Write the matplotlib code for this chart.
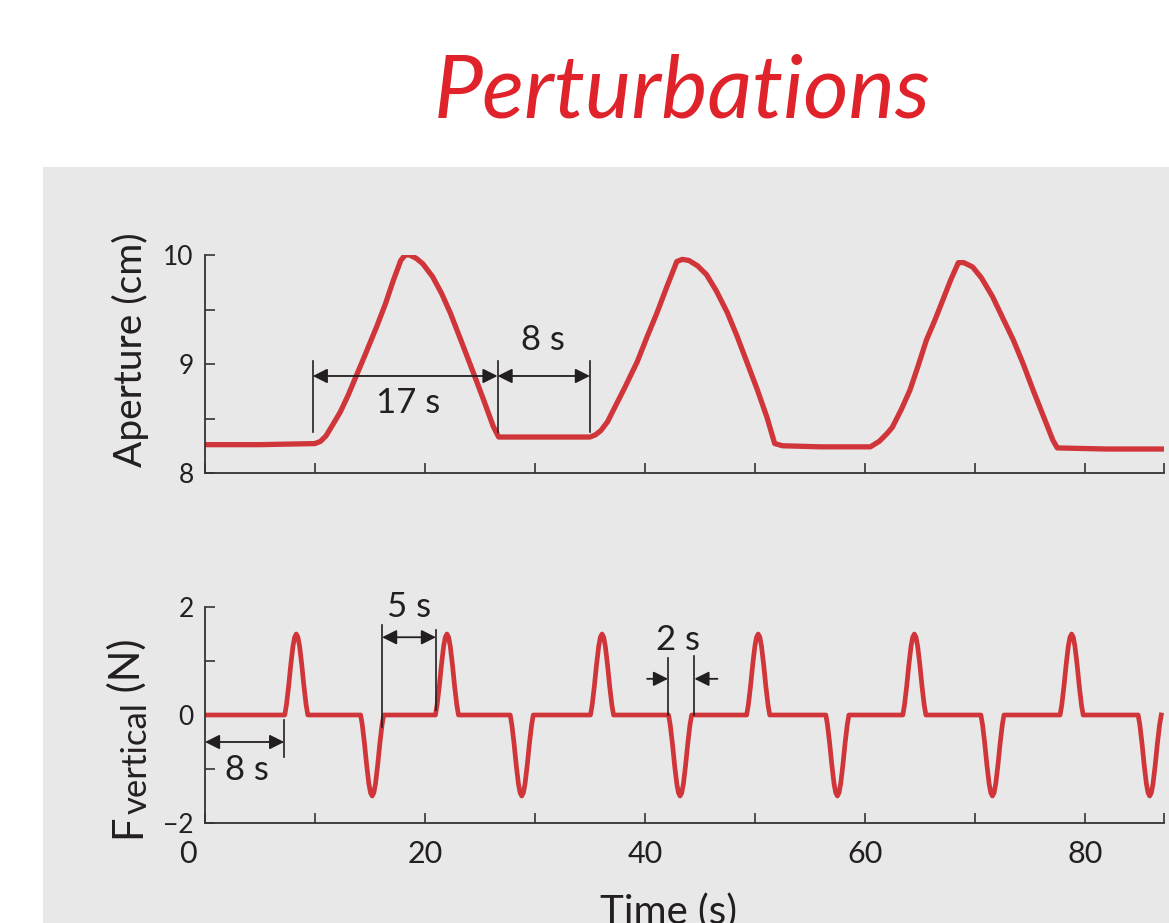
import matplotlib
matplotlib.use("Agg")
import matplotlib.pyplot as plt
from matplotlib.patches import Rectangle
import matplotlib.transforms as mtransforms

plt.rcParams['font.family'] = ['Lato', 'DejaVu Sans']
plt.rcParams['axes.unicode_minus'] = True

# Aperture trace (time s, aperture cm)
ap_t = [0, 5.0, 10.0, 10.5, 11.0, 11.6, 12.3, 13.0, 13.5, 14.5, 15.6, 16.4, 17.1, 17.8,
        18.2, 18.6, 19.2, 19.8, 20.7, 21.5, 22.3, 23.3, 24.4, 25.3, 26.2, 26.7,
        30.0, 35.0, 35.5, 36.0, 36.6, 37.1, 38.2, 39.3, 40.2, 41.1, 42.0, 42.9, 43.4,
        44.0, 44.8, 45.6, 46.5, 47.5, 48.4, 49.3, 50.2, 51.1, 51.8, 52.5, 56.0, 60.5,
        61.3, 62.0, 62.5, 63.3, 64.1, 64.8, 65.6, 66.4, 67.1, 67.8, 68.5, 69.0, 69.8,
        70.6, 71.6, 72.5, 73.5, 74.4, 75.3, 76.2, 77.1, 77.5, 82.0, 87.2]
ap_v = [8.26, 8.26, 8.27, 8.29, 8.34, 8.44, 8.56, 8.71, 8.83, 9.07, 9.34, 9.55, 9.76, 9.95,
        10.0, 10.0, 9.97, 9.92, 9.80, 9.65, 9.47, 9.21, 8.92, 8.68, 8.43, 8.33,
        8.33, 8.33, 8.35, 8.39, 8.47, 8.57, 8.79, 9.02, 9.25, 9.47, 9.71, 9.94, 9.96,
        9.95, 9.90, 9.82, 9.67, 9.47, 9.25, 9.01, 8.77, 8.51, 8.27, 8.25, 8.24, 8.24,
        8.29, 8.36, 8.42, 8.58, 8.76, 8.97, 9.22, 9.41, 9.59, 9.77, 9.93, 9.93, 9.89,
        9.79, 9.62, 9.43, 9.22, 9.00, 8.76, 8.53, 8.30, 8.23, 8.22, 8.22]

# Force pulses: centres (s) and peak (N)
pulse_t = [8.3, 15.2, 22.0, 28.8, 36.1, 43.2, 50.3, 57.5, 64.5, 71.6, 78.8, 85.9]
pulse_a = [1.5, -1.5, 1.5, -1.5, 1.5, -1.5, 1.5, -1.5, 1.5, -1.5, 1.5, -1.5]
# pulse shape read from one bump (offset s, fraction of peak)
prof_dt = [-1.05, -0.9, -0.7, -0.5, -0.3, -0.15, 0.0, 0.15, 0.3, 0.5, 0.7, 0.9, 1.05]
prof_f = [0.0, 0.12, 0.35, 0.62, 0.85, 0.96, 1.0, 0.96, 0.85, 0.62, 0.35, 0.12, 0.0]

xticks = [0, 10, 20, 30, 40, 50, 60, 70, 80]
xlabels = ['0', '', '20', '', '40', '', '60', '', '80']
t_end = 87.2

RED = '#d0353a'
INK = '#231f20'

# build force trace
f_t, f_v = [0.0], [0.0]
for c, a in zip(pulse_t, pulse_a):
    for dt, fr in zip(prof_dt, prof_f):
        f_t.append(c + dt)
        f_v.append(a * fr)

fig = plt.figure(figsize=(11.69, 9.23), dpi=100)
fig.patches.append(Rectangle((43 / 1169, 0), 1 - 43 / 1169, (923 - 167) / 923,
                             transform=fig.transFigure, facecolor='#e8e8e8',
                             edgecolor='none', zorder=-10))

fig.text(0.584, 1 - 117 / 923, 'Perturbations', color='#e0232a', fontsize=63,
         style='italic', ha='center', va='baseline')

ax1 = fig.add_axes([205 / 1169, 1 - 473 / 923, (1164 - 205) / 1169, (473 - 255) / 923])
ax2 = fig.add_axes([205 / 1169, 1 - 823 / 923, (1164 - 205) / 1169, (823 - 607) / 923])

for ax in (ax1, ax2):
    ax.set_facecolor('none')
    for s in ('top', 'right'):
        ax.spines[s].set_visible(False)
    for s in ('left', 'bottom'):
        ax.spines[s].set_color('#333333')
        ax.spines[s].set_linewidth(1.3)
    ax.tick_params(direction='in', length=7, width=1.2, color='#333333',
                   labelsize=19, labelcolor=INK, pad=8)
    ax.tick_params(axis='x', labelsize=22, pad=12)
    ax.set_xlim(0, t_end)
    ax.set_xticks(xticks + [t_end])

ax1.plot(ap_t, ap_v, color=RED, lw=3.8, solid_joinstyle='round')
ax1.set_ylim(8, 10)
ax1.set_yticks([8, 8.5, 9, 9.5, 10])
ax1.set_yticklabels(['8', '', '9', '', '10'])
ax1.set_xticklabels([''] * (len(xticks) + 1))

ax2.plot(f_t, f_v, color=RED, lw=3.4, solid_joinstyle='round')
ax2.set_ylim(-2, 2)
ax2.set_yticks([-2, -1, 0, 1, 2])
ax2.set_yticklabels(['\u22122', '', '0', '', '2'])
ax2.set_xticklabels(xlabels + [''])
lab0 = ax2.get_xticklabels()[0]
lab0.set_transform(lab0.get_transform() + mtransforms.ScaledTranslation(-0.17, 0, fig.dpi_scale_trans))

fig.text(130 / 1169, 1 - 350 / 923, 'Aperture (cm)', rotation=90, fontsize=28,
         color=INK, ha='center', va='center')
fig.text(668 / 1169, 1 - 893 / 923, 'Time (s)', fontsize=29, color=INK,
         ha='center', va='top')

# F_vertical (N) label built from pieces so the subscript stays large
renderer = fig.canvas.get_renderer()
pieces = [('F', 30, 0), ('vertical', 25, 7), (' (N)', 30, 0)]
ypos = 838
for s, size, drop in pieces:
    t = fig.text((140 + drop) / 1169, 1 - ypos / 923, s, rotation=90, fontsize=size,
                 color=INK, ha='left', va='baseline', rotation_mode='anchor')
    ypos -= t.get_window_extent(renderer).height

arrow = dict(arrowstyle='-|>', color=INK, lw=1.3, shrinkA=0, shrinkB=0,
             mutation_scale=22)
both = dict(arrowstyle='<|-|>', color=INK, lw=1.3, shrinkA=0, shrinkB=0,
            mutation_scale=22)

# top panel dimension markers
for x in (9.8, 26.6, 35.0):
    ax1.plot([x, x], [8.38, 9.03], color=INK, lw=1.2)
ax1.annotate('', xy=(26.6, 8.89), xytext=(9.8, 8.89), arrowprops=both)
ax1.annotate('', xy=(35.0, 8.89), xytext=(26.6, 8.89), arrowprops=both)
ax1.text(18.5, 8.64, '17 s', fontsize=25, color=INK, ha='center', va='center')
ax1.text(30.7, 9.22, '8 s', fontsize=25, color=INK, ha='center', va='center')

# bottom panel dimension markers
ax2.plot([7.2, 7.2], [-0.1, -0.78], color=INK, lw=1.2)
ax2.annotate('', xy=(7.2, -0.5), xytext=(0, -0.5), arrowprops=both)
ax2.text(3.8, -1.02, '8 s', fontsize=25, color=INK, ha='center', va='center')

ax2.plot([16.1, 16.1], [1.67, -0.22], color=INK, lw=1.2)
ax2.plot([21.0, 21.0], [1.57, 0.1], color=INK, lw=1.2)
ax2.annotate('', xy=(21.0, 1.44), xytext=(16.1, 1.44), arrowprops=both)
ax2.text(18.6, 2.0, '5 s', fontsize=25, color=INK, ha='center', va='center')

ax2.plot([42.1, 42.1], [1.06, 0.0], color=INK, lw=1.2)
ax2.plot([44.5, 44.5], [1.1, 0.0], color=INK, lw=1.2)
ax2.annotate('', xy=(42.1, 0.67), xytext=(40.2, 0.67), arrowprops=arrow)
ax2.annotate('', xy=(44.5, 0.67), xytext=(46.6, 0.67), arrowprops=arrow)
ax2.text(43.0, 1.39, '2 s', fontsize=25, color=INK, ha='center', va='center')

fig.savefig('out.png', dpi=100)
